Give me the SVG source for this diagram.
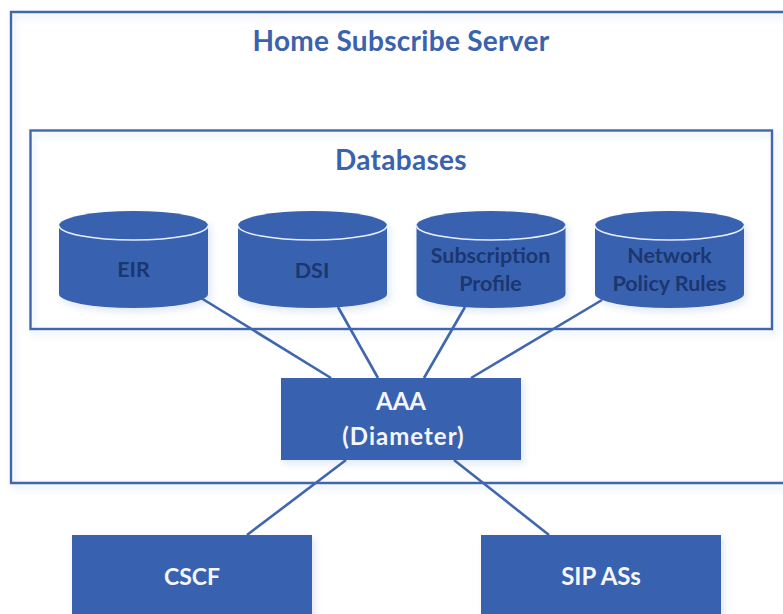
<svg xmlns="http://www.w3.org/2000/svg" width="783" height="614" viewBox="0 0 783 614">
<style>
text{font-family:"Lato","Open Sans","Liberation Sans",sans-serif;font-weight:700;text-anchor:middle}
.frame{fill:none;stroke:#3f66ae;stroke-width:2.4}
.box{fill:#3862af}
.cyl{fill:#3862af}
.rim{fill:none;stroke:#e8eef8;stroke-width:1.6}
.w{fill:#f4f6fb;font-size:24px}
.d{fill:#1b3670;font-size:21.5px}
.t{fill:#3a62ad;font-size:28px;letter-spacing:.3px}
.c line{stroke:#3f66ae;stroke-width:2.6}
.s{filter:url(#sh)}
</style>
<defs>
<filter id="sh" x="-10%" y="-10%" width="125%" height="130%"><feDropShadow dx="3" dy="4" stdDeviation="3" flood-color="#3862af" flood-opacity="0.14"/></filter>
<path id="cy" d="M59 225.500A74.500 14.500 0 0 1 208 225.500V294A74.500 14 0 0 1 59 294Z"/>
</defs>
<rect width="783" height="614" fill="#fff"/>
<g id="hss"><path class="frame s" d="M790 12H11V483H790"/><text class="t" x="401" y="51">Home Subscribe Server</text></g>
<g id="databases"><rect class="frame s" x="30.500" y="130.500" width="741.500" height="198.500"/><text class="t" x="401" y="170">Databases</text></g>
<g id="connectors" class="c">
<line x1="201" y1="298" x2="331" y2="378"/>
<line x1="338" y1="307" x2="378" y2="378"/>
<line x1="465" y1="307" x2="424" y2="378"/>
<line x1="602" y1="300" x2="471" y2="378"/>
<line x1="346" y1="460" x2="247" y2="535"/>
<line x1="454" y1="460" x2="549" y2="535"/>
</g>
<g id="eir"><use href="#cy" class="cyl s"/><path class="rim" d="M59 225.500A74.500 14.500 0 0 0 208 225.500"/><text class="d" x="133.500" y="277">EIR</text></g>
<g id="dsi"><use href="#cy" class="cyl s" x="179"/><path class="rim" d="M238 225.500A74.500 14.500 0 0 0 387 225.500"/><text class="d" x="312" y="278">DSI</text></g>
<g id="subscription"><use href="#cy" class="cyl s" x="357.500"/><path class="rim" d="M416.500 225.500A74.500 14.500 0 0 0 565.500 225.500"/><text class="d" x="490.500" y="263">Subscription</text><text class="d" x="490.500" y="291">Profile</text></g>
<g id="network"><use href="#cy" class="cyl s" x="536"/><path class="rim" d="M595 225.500A74.500 14.500 0 0 0 744 225.500"/><text class="d" x="669.500" y="263">Network</text><text class="d" x="669.500" y="291">Policy Rules</text></g>
<g id="aaa"><rect class="box s" x="281" y="378" width="240" height="82"/><text class="w" x="401" y="410">AAA</text><text class="w" x="403.500" y="445" style="letter-spacing:1px">(Diameter)</text></g>
<g id="cscf"><rect class="box s" x="72" y="535" width="240" height="90"/><text class="w" x="192" y="585" style="font-size:23px">CSCF</text></g>
<g id="sip"><rect class="box s" x="481" y="535" width="240" height="90"/><text class="w" x="601" y="585">SIP ASs</text></g>
</svg>
